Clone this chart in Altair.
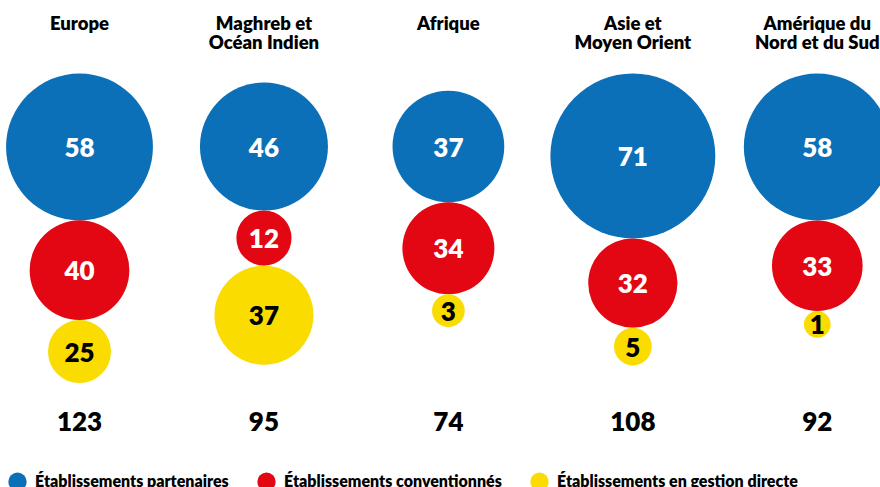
import altair as alt
import pandas as pd
import numpy as np

# ---------------- data ----------------
regions = ["Europe", "Maghreb et\nOcéan Indien", "Afrique", "Asie et\nMoyen Orient", "Amérique du\nNord et du Sud"]
partenaires = [58, 46, 37, 71, 58]
conventionnes = [40, 12, 34, 32, 33]
gestion_directe = [25, 37, 3, 5, 1]
series_names = ["Établissements partenaires", "Établissements conventionnés", "Établissements en gestion directe"]

# ---------------- styles / scales ----------------
colors = ["#0B70B7", "#E30613", "#FADC00"]
label_colors = ["white", "white", "black"]
W, H = 880, 487
FONT = "Lato"
WEIGHT = 800

# size scales (area of symbol bounding box, px^2), one per series
size_scales = [
    dict(domain=[37, 71], range=[12488, 27203]),
    dict(domain=[12, 40], range=[3044, 9938]),
    dict(domain=[1, 5, 25, 37], range=[713, 1421, 3969, 9801]),
]

def radius(v, k):
    sc = size_scales[k]
    return np.sqrt(np.interp(v, sc["domain"], sc["range"])) / 2.0

# vertical stacking layout: circles of a column touch each other
TOP_LIMIT, BLUE_MID = 73.5, 146.5
rows = []
values = [partenaires, conventionnes, gestion_directe]
for i, reg in enumerate(regions):
    r = [radius(values[k][i], k) for k in range(3)]
    cb = max(BLUE_MID, TOP_LIMIT + r[0])
    cr = cb + r[0] + r[1]
    cy = cr + r[1] + r[2]
    for k, c in enumerate([cb, cr, cy]):
        rows.append(dict(region=reg, series=series_names[k], k=k, value=values[k][i], y=c))
df = pd.DataFrame(rows)

tot = pd.DataFrame(dict(region=regions,
                        total=[a + b + c for a, b, c in zip(partenaires, conventionnes, gestion_directe)]))

xscale = alt.Scale(type="point", domain=regions, range=[79.5, 817.3], padding=0)
yscale = alt.Scale(domain=[0, H], reverse=True)
cscale = alt.Scale(domain=series_names, range=colors)

X = alt.X("region:N", scale=xscale, axis=None)
Y = alt.Y("y:Q", scale=yscale, axis=None)

layers = []
for k in range(3):
    base = alt.Chart(df).transform_filter(alt.datum.k == k)
    circ = base.mark_circle(opacity=1, strokeWidth=0).encode(
        x=X, y=Y,
        size=alt.Size("value:Q", scale=alt.Scale(zero=False, **size_scales[k]), legend=None),
        color=alt.Color("series:N", scale=cscale,
                        legend=alt.Legend(title=None) if k == 0 else None),
    )
    txt = base.mark_text(font=FONT, fontWeight=WEIGHT, fontSize=26, dy=2,
                         color=label_colors[k]).encode(
        x=X, y=Y, text=alt.Text("value:Q"))
    layers += [circ, txt]

headers = alt.Chart(pd.DataFrame(dict(region=regions))).mark_text(
    font=FONT, fontWeight=WEIGHT, fontSize=18.5, lineHeight=19.5, lineBreak="\n",
    baseline="alphabetic", color="black"
).encode(x=X, y=alt.value(29.5), text="region:N")

totals = alt.Chart(tot).mark_text(
    font=FONT, fontWeight=WEIGHT, fontSize=26, baseline="middle", color="black", dy=1
).encode(x=X, y=alt.value(422), text="total:Q")

chart = alt.layer(*layers, headers, totals).resolve_scale(size="independent").properties(
    width=W, height=H, autosize=alt.AutoSizeParams(type="none"), padding=0
).configure_view(stroke=None).configure_legend(
    orient="none", legendX=8, legendY=472, direction="horizontal",
    symbolType="circle", symbolSize=335, symbolStrokeWidth=0, symbolOpacity=1,
    labelFont=FONT, labelFontSize=16, labelFontWeight=WEIGHT, labelColor="black",
    labelLimit=500, labelOffset=8, columnPadding=28, padding=0,
)

chart.save("out.html", embed_options={"renderer": "svg", "actions": False})
